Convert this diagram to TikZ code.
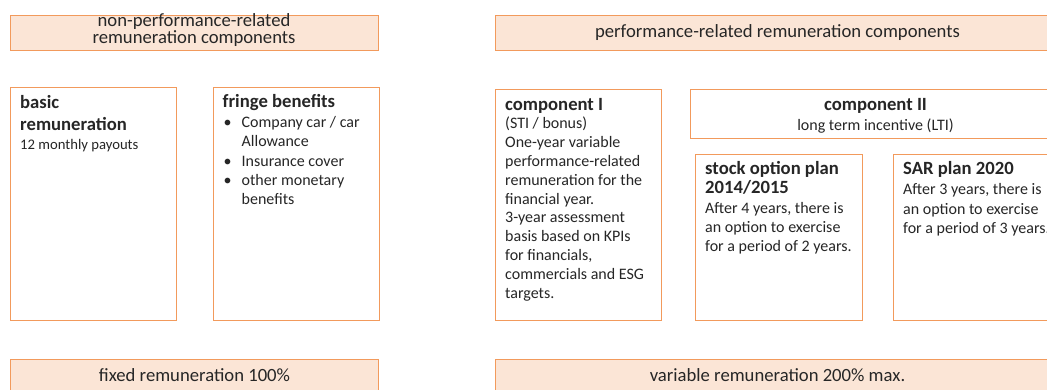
\documentclass[tikz,border=0pt]{standalone}
\usepackage{fontspec}
\setmainfont{Carlito}
\definecolor{bordc}{HTML}{F29A5C}
\definecolor{fillc}{HTML}{FBE5D6}
\definecolor{txtc}{HTML}{262626}
\newcommand\hdfont{\fontsize{18.67}{18.3}\selectfont\bfseries}
\newcommand\bdfont{\fontsize{16}{19.2}\selectfont}
\newcommand\ttlfont{\fontsize{18.67}{16.5}\selectfont}
\begin{document}
\begin{tikzpicture}[x=1pt,y=-1pt,
  box/.style={draw=bordc, line width=1pt, anchor=north west, inner sep=0pt, fill=white},
  hbox/.style={box, fill=fillc, text=txtc, align=center, font=\ttlfont},
  hd/.style={anchor=base west, inner sep=0pt, align=left, text=txtc, font=\hdfont},
  bd/.style={anchor=base west, inner sep=0pt, align=left, text=txtc, font=\bdfont}]
\useasboundingbox (0,0) rectangle (1047,390);
\clip (0,0) rectangle (1047,390);
% header boxes
\node[hbox, minimum width=368, minimum height=35] (npr) at (10,15) {};
\node[text=txtc, font=\ttlfont, align=center, inner sep=0pt, anchor=base] (npr-t) at (194,43.5) {non-performance-related\\remuneration components};
\node[hbox, minimum width=565, minimum height=35] (pr) at (495,15) {};
\node[text=txtc, font=\ttlfont, inner sep=0pt, anchor=base] (pr-t) at (777.5,38) {performance-related remuneration components};
% footer boxes
\node[hbox, minimum width=368, minimum height=36] (fix) at (10,359) {};
\node[text=txtc, font=\ttlfont, inner sep=0pt, anchor=base] (fix-t) at (194.5,381) {fixed remuneration 100\%};
\node[hbox, minimum width=565, minimum height=36] (var) at (495,359) {};
\node[text=txtc, font=\ttlfont, inner sep=0pt, anchor=base] (var-t) at (777.5,381) {variable remuneration 200\% max.};
% content boxes
\node[box, minimum width=166, minimum height=233] (basic) at (10,87) {};
\node[box, minimum width=166, minimum height=233] (fringe) at (213,87) {};
\node[box, minimum width=166, minimum height=231] (compI) at (495,89) {};
\node[box, minimum width=371, minimum height=49] (compII) at (690,89) {};
\node[box, minimum width=167, minimum height=166] (stock) at (695,154) {};
\node[box, minimum width=170, minimum height=166] (sar) at (893,154) {};
% texts
\node[hd, font=\fontsize{18.67}{22.7}\selectfont\bfseries] (basic-h) at (20,131) {basic\\remuneration};
\node[bd, font=\fontsize{14.67}{18}\selectfont] (basic-b) at (20,150) {12 monthly payouts};
\node[hd] (fringe-h) at (222.5,107.7) {fringe benefits};
\node[bd] (fringe-b) at (241.5,204.5) {\llap{\textbullet\hskip10pt}Company car / car\\Allowance\\\llap{\textbullet\hskip10pt}Insurance cover\\\llap{\textbullet\hskip10pt}other monetary\\benefits};
\node[hd] (compI-h) at (505,111) {component I};
\node[bd, font=\fontsize{16}{18.9}\selectfont] (compI-b) at (505,298.5) {(STI / bonus)\\One-year variable\\performance-related\\remuneration for the\\financial year.\\3-year assessment\\basis based on KPIs\\for financials,\\commercials and ESG\\targets.};
\node[hd, anchor=base] (compII-h) at (875.5,111) {component II};
\node[bd, anchor=base] (compII-b) at (875.5,131) {long term incentive (LTI)};
\node[hd] (stock-h) at (705,193.3) {stock option plan\\2014/2015};
\node[bd] (stock-b) at (705,251.6) {After 4 years, there is\\an option to exercise\\for a period of 2 years.};
\node[hd] (sar-h) at (903,175) {SAR plan 2020};
\node[bd] (sar-b) at (903,233.3) {After 3 years, there is\\an option to exercise\\for a period of 3 years.};
\end{tikzpicture}
\end{document}
